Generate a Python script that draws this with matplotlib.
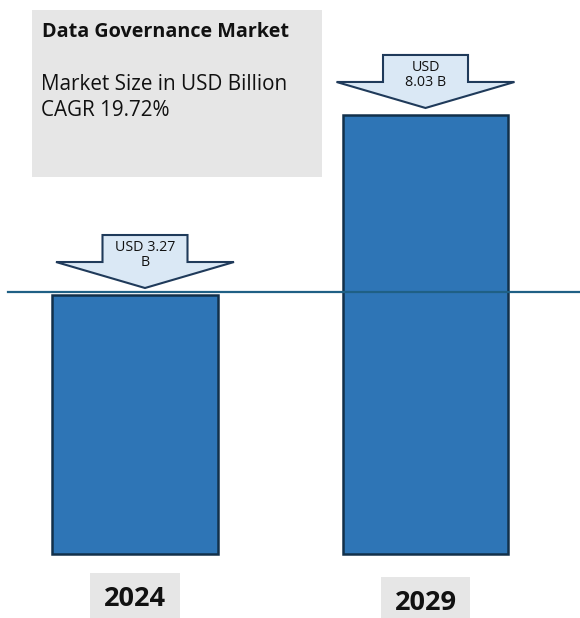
import matplotlib
matplotlib.use("Agg")
import matplotlib.pyplot as plt
import matplotlib.transforms as mtransforms
from matplotlib.patches import Polygon, Rectangle

# ---- data ----
years = ["2024", "2029"]
values = [3.27, 8.03]
value_labels = ["USD 3.27\nB", "USD\n8.03 B"]
title = "Data Governance Market"
subtitle_lines = ["Market Size in USD Billion", "CAGR 19.72%"]
ref_line = 3.35

# ---- style ----
W, H = 580, 618
DPI = 100
FONT = ["Open Sans", "DejaVu Sans"]
bar_color = "#2e75b6"
bar_edge = "#12304a"
arrow_fill = "#dae8f5"
arrow_edge = "#1f3a5a"
box_gray = "#e6e6e6"
baseline = -3.58

plt.rcParams["font.family"] = FONT

fig = plt.figure(figsize=(W / DPI, H / DPI), dpi=DPI)
ax = fig.add_axes([0, 0, 1, 1])
ax.set_xlim(-0.4647, 1.5318)
ax.set_ylim(-5.27, 11.07)
ax.axis("off")

x = list(range(len(years)))
ax.bar(x, [v - baseline for v in values], bottom=baseline, width=0.571,
       color=bar_color, edgecolor=bar_edge, linewidth=1.8, zorder=2)

ax.axhline(ref_line, xmin=8 / W, xmax=1, color="#1f6085", linewidth=1.6, zorder=3)

# title box
fig.patches.append(Rectangle((32 / W, 1 - 177 / H), 290 / W, 167 / H,
                             transform=fig.transFigure, facecolor=box_gray,
                             edgecolor="none", zorder=0))
fig.text(42 / W, 1 - 37 / H, title, fontsize=14.2, fontweight="bold",
         va="baseline", ha="left", color="#111111")
fig.text(41 / W, 1 - 90 / H, subtitle_lines[0], fontsize=14.9,
         va="baseline", ha="left", color="#111111")
fig.text(41 / W, 1 - 116 / H, subtitle_lines[1], fontsize=14.9,
         va="baseline", ha="left", color="#111111")

# arrows (shape in pixels, anchored above each bar top)
arrow_dx = [10, 0]
gap = 7
shape = [(0, 0), (89, 26), (42.5, 26), (42.5, 53), (-42.5, 53),
         (-42.5, 26), (-89, 26)]
for xi, v, lab, dx in zip(x, values, value_labels, arrow_dx):
    tr = mtransforms.Affine2D().translate(dx, gap) + \
        mtransforms.ScaledTranslation(xi, v, ax.transData)
    poly = Polygon(shape, closed=True, transform=tr, facecolor=arrow_fill,
                   edgecolor=arrow_edge, linewidth=1.5, zorder=4)
    ax.add_patch(poly)
    ttr = mtransforms.Affine2D().translate(dx, gap + 33) + \
        mtransforms.ScaledTranslation(xi, v, ax.transData)
    ax.text(0, 0, lab, transform=ttr, ha="center", va="center",
            fontsize=10.3, color="#111111", zorder=5, linespacing=1.05)

# year labels
year_dy = [-45, -49]
for xi, yr, dy in zip(x, years, year_dy):
    ttr = mtransforms.Affine2D().translate(0, dy) + \
        mtransforms.ScaledTranslation(xi, baseline, ax.transData)
    ax.text(0, 0, yr, transform=ttr, ha="center", va="center",
            fontsize=19.5, fontweight="bold", color="#111111",
            bbox=dict(boxstyle="square,pad=0.5", facecolor=box_gray,
                      edgecolor="none"))

fig.savefig("out.png", dpi=DPI)
